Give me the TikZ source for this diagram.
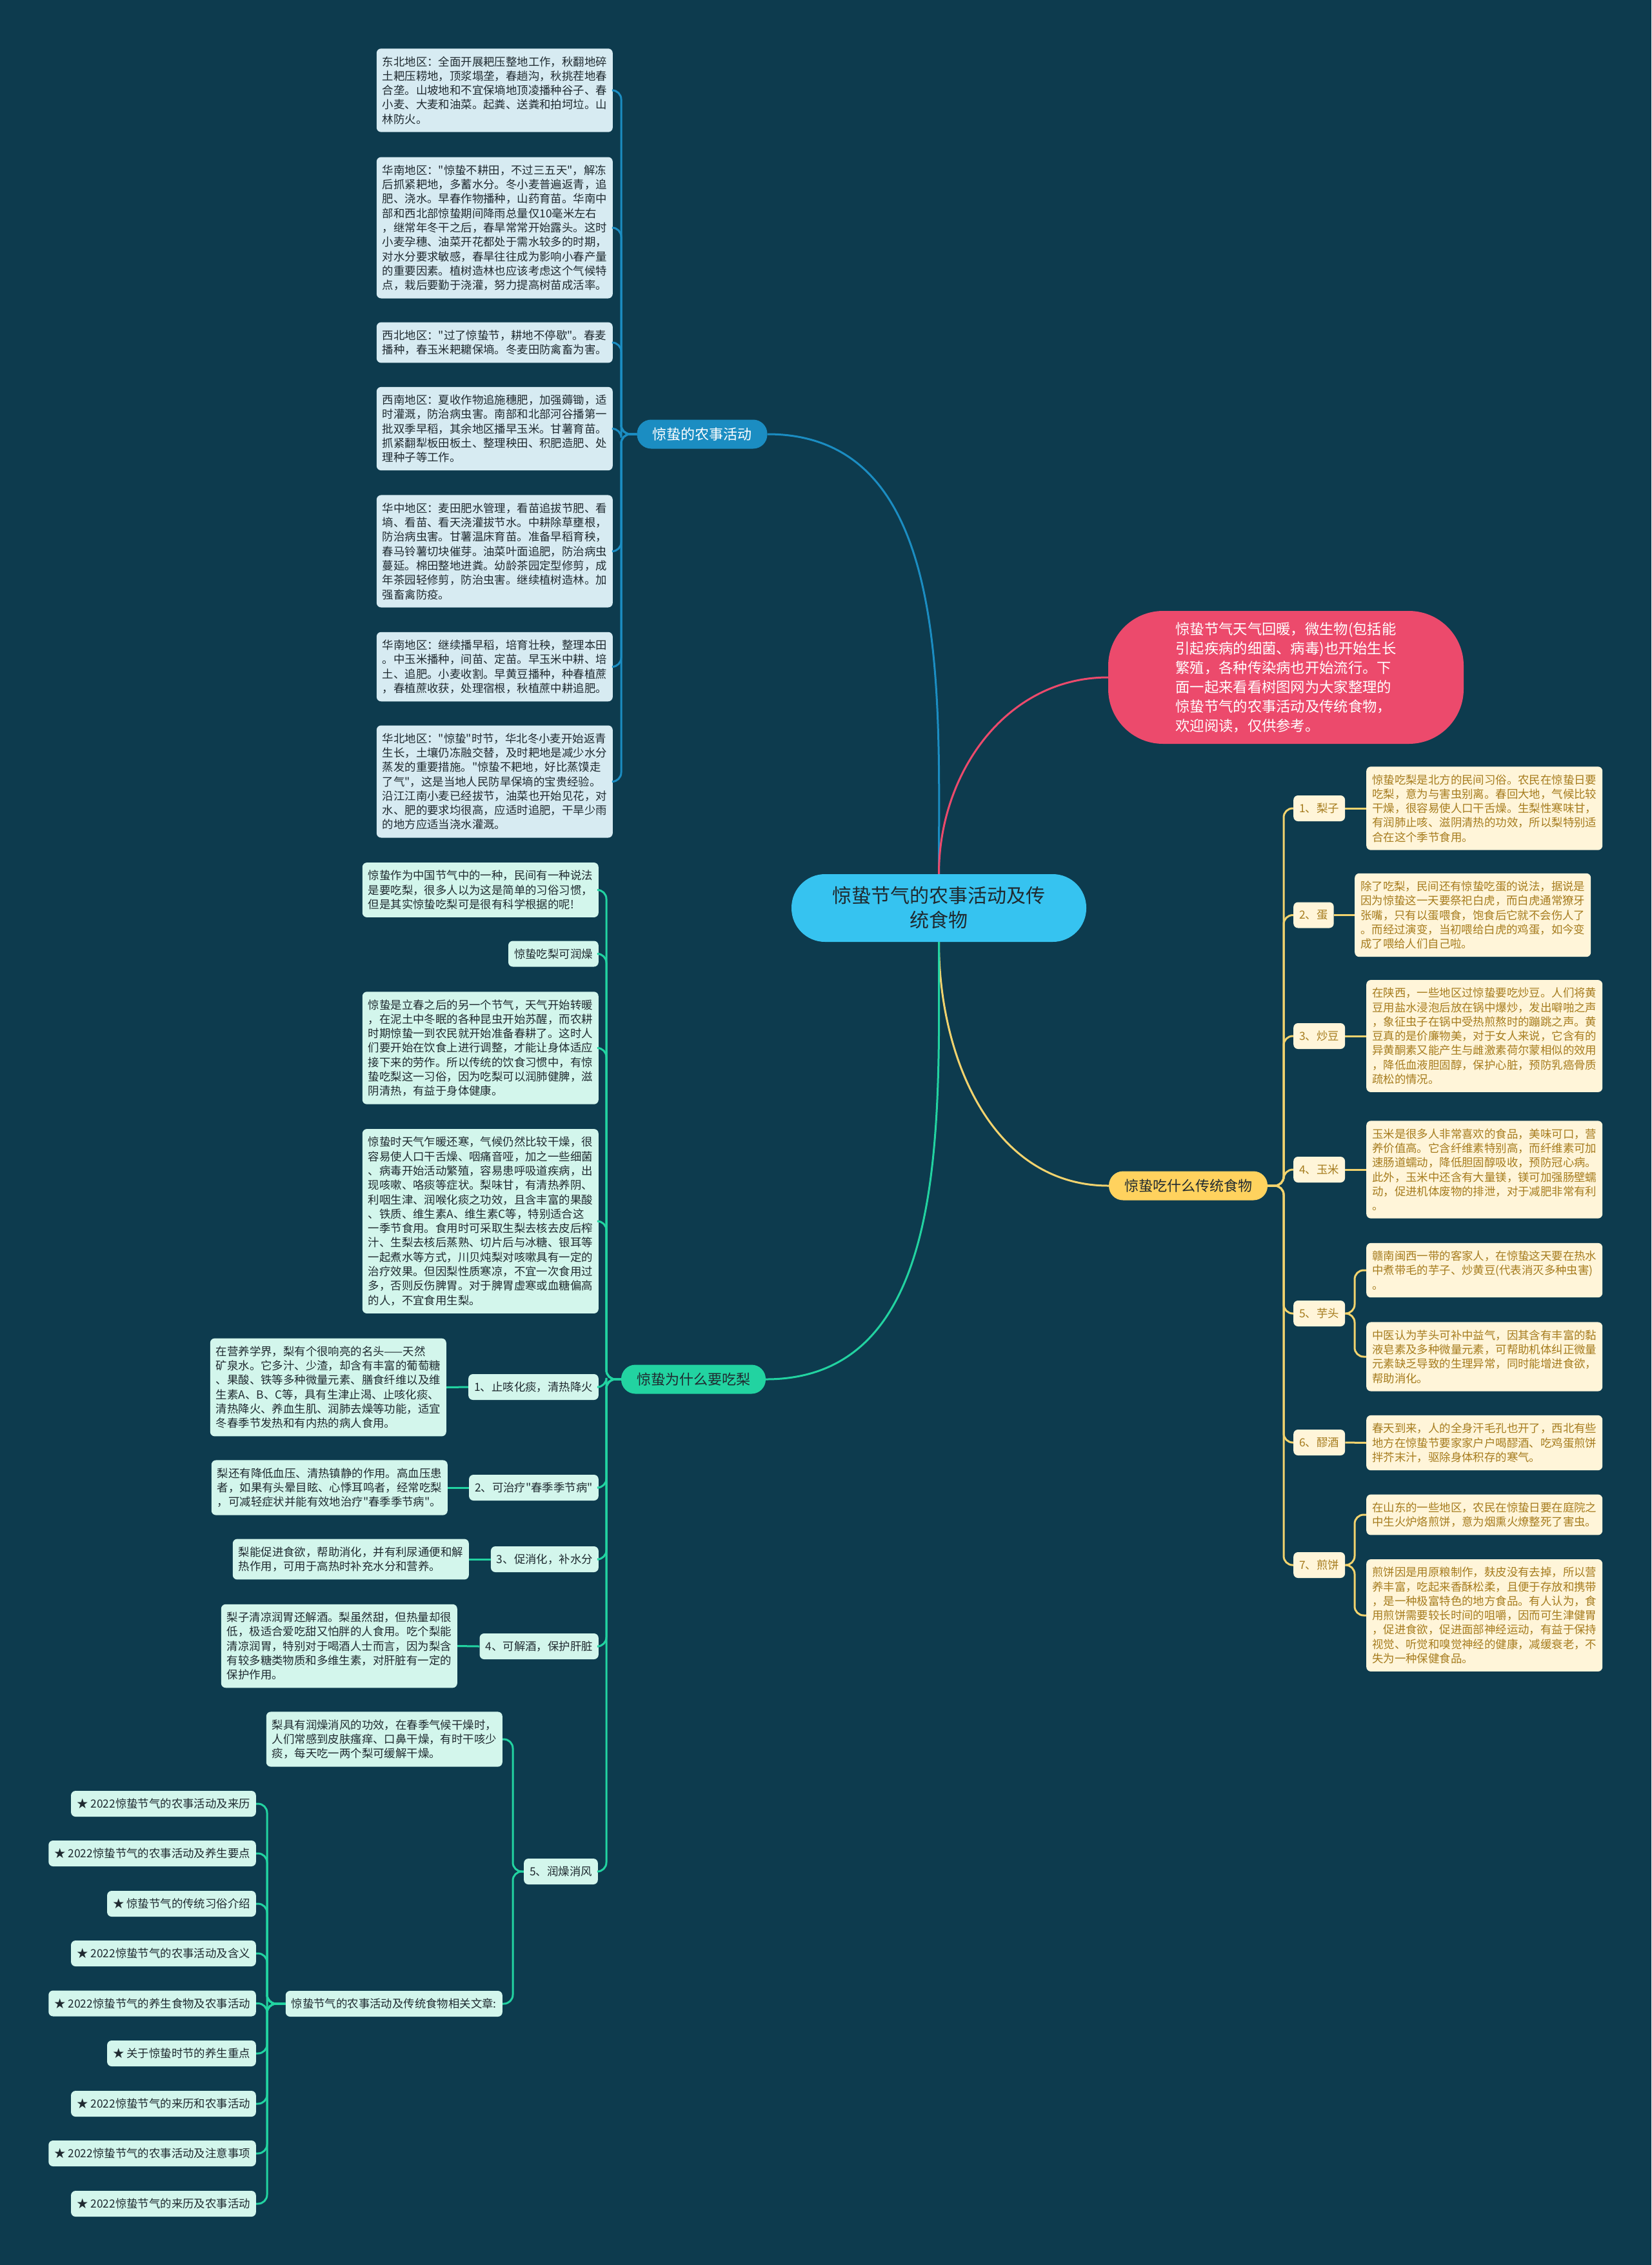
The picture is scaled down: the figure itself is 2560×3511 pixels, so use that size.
\documentclass[tikz,border=0pt]{standalone}
\usepackage{fontspec}
\setmainfont{Noto Sans CJK SC}[Ligatures=TeXOff]
\definecolor{bgnavy}{HTML}{0D3B4E}
\definecolor{farmblue}{HTML}{1B8DC2}
\definecolor{farmpale}{HTML}{D7EBF2}
\definecolor{hubcyan}{HTML}{36C3F0}
\definecolor{introred}{HTML}{EC4A6C}
\definecolor{foodgold}{HTML}{FFD25E}
\definecolor{foodline}{HTML}{F2D36E}
\definecolor{foodcream}{HTML}{FFF5D9}
\definecolor{foodtext}{HTML}{A67C1E}
\definecolor{peargreen}{HTML}{22D3A1}
\definecolor{pearmint}{HTML}{D3F6EC}
\definecolor{inkdark}{HTML}{1F2A30}
\newcommand{\bodyfont}{\fontsize{17.4}{22.3}\selectfont}

\begin{document}
\begin{tikzpicture}[x=1pt, y=-1pt,
	notebox/.style={rounded corners=7pt, inner xsep=9pt, inner ysep=12pt, align=left, font=\bodyfont},
	farmnote/.style={notebox, fill=farmpale, text=inkdark},
	pearnote/.style={notebox, fill=pearmint, text=inkdark},
	foodnote/.style={notebox, fill=foodcream, text=foodtext},
	pearlabel/.style={pearnote, minimum height=40pt, inner ysep=0pt},
	foodlabel/.style={foodnote, minimum height=40pt, inner ysep=0pt},
	branchpill/.style={rounded corners=22pt, minimum height=45pt, inner xsep=24pt, font=\fontsize{22}{26}\selectfont},
	farmwire/.style={draw=farmblue, line width=3pt, rounded corners=14pt},
	pearwire/.style={draw=peargreen, line width=3pt, rounded corners=14pt},
	foodwire/.style={draw=foodline, line width=3pt, rounded corners=14pt}]

	\useasboundingbox (0,0) rectangle (2560,3511);
	\fill[bgnavy] (0,0) rectangle (2560,3511);

	% centre and introduction
	\node[fill=hubcyan, text=inkdark, rounded corners=52pt, minimum width=457pt, minimum height=105pt, align=center, font=\fontsize{30}{38}\selectfont] (hub) at (1455.5,1407.5) {惊蛰节气的农事活动及传\\统食物};
	\node[fill=introred, text=white, rounded corners=85pt, minimum width=551pt, minimum height=206pt, align=left, font=\fontsize{22.3}{30}\selectfont] (intro) at (1993.5,1050) {惊蛰节气天气回暖，微生物(包括能\\引起疾病的细菌、病毒)也开始生长\\繁殖，各种传染病也开始流行。下\\面一起来看看树图网为大家整理的\\惊蛰节气的农事活动及传统食物，\\欢迎阅读，仅供参考。};

	% three branches
	\node[branchpill, fill=farmblue, text=white] (farm) at (1088.5,673) {惊蛰的农事活动};
	\node[branchpill, fill=foodgold, text=inkdark] (food) at (1842,1838) {惊蛰吃什么传统食物};
	\node[branchpill, fill=peargreen, text=inkdark] (pear) at (1075,2138) {惊蛰为什么要吃梨};

	\draw[farmblue, line width=3pt] (hub.north) to[out=90, in=0] (farm.east);
	\draw[introred, line width=3pt] (hub.north) to[out=90, in=180] (intro.west);
	\draw[foodline, line width=3pt] (hub.south) to[out=-90, in=180] (food.west);
	\draw[peargreen, line width=3pt] (hub.south) to[out=-90, in=0] (pear.east);

	% farm work by region
	\node[farmnote, anchor=east] (f1) at (950,140) {东北地区：全面开展耙压整地工作，秋翻地碎\\土耙压耢地，顶浆塌垄，春趟沟，秋挑茬地春\\合垄。山坡地和不宜保墒地顶凌播种谷子、春\\小麦、大麦和油菜。起粪、送粪和拍坷垃。山\\林防火。};
	\node[farmnote, anchor=east] (f2) at (950,353) {华南地区："惊蛰不耕田，不过三五天"，解冻\\后抓紧耙地，多蓄水分。冬小麦普遍返青，追\\肥、浇水。早春作物播种，山药育苗。华南中\\部和西北部惊蛰期间降雨总量仅10毫米左右\\，继常年冬干之后，春旱常常开始露头。这时\\小麦孕穗、油菜开花都处于需水较多的时期，\\对水分要求敏感，春旱往往成为影响小春产量\\的重要因素。植树造林也应该考虑这个气候特\\点，栽后要勤于浇灌，努力提高树苗成活率。};
	\node[farmnote, anchor=east] (f3) at (950,531) {西北地区："过了惊蛰节，耕地不停歇"。春麦\\播种，春玉米耙耱保墒。冬麦田防禽畜为害。};
	\node[farmnote, anchor=east] (f4) at (950,664.5) {西南地区：夏收作物追施穗肥，加强薅锄，适\\时灌溉，防治病虫害。南部和北部河谷播第一\\批双季早稻，其余地区播早玉米。甘薯育苗。\\抓紧翻犁板田板土、整理秧田、积肥造肥、处\\理种子等工作。};
	\node[farmnote, anchor=east] (f5) at (950,854.5) {华中地区：麦田肥水管理，看苗追拔节肥、看\\墒、看苗、看天浇灌拔节水。中耕除草壅根，\\防治病虫害。甘薯温床育苗。准备早稻育秧，\\春马铃薯切块催芽。油菜叶面追肥，防治病虫\\蔓延。棉田整地进粪。幼龄茶园定型修剪，成\\年茶园轻修剪，防治虫害。继续植树造林。加\\强畜禽防疫。};
	\node[farmnote, anchor=east] (f6) at (950,1033.5) {华南地区：继续播早稻，培育壮秧，整理本田\\。中玉米播种，间苗、定苗。早玉米中耕、培\\土、追肥。小麦收割。早黄豆播种，种春植蔗\\，春植蔗收获，处理宿根，秋植蔗中耕追肥。};
	\node[farmnote, anchor=east] (f7) at (950,1211.5) {华北地区："惊蛰"时节，华北冬小麦开始返青\\生长，土壤仍冻融交替，及时耙地是减少水分\\蒸发的重要措施。"惊蛰不耙地，好比蒸馍走\\了气"，这是当地人民防旱保墒的宝贵经验。\\沿江江南小麦已经拔节，油菜也开始见花，对\\水、肥的要求均很高，应适时追肥，干旱少雨\\的地方应适当浇水灌溉。};

	\coordinate (farmjoint) at (963,673);
	\draw[farmwire] (farm.west) -- (farmjoint) |- (f1.east);
	\draw[farmwire] (farm.west) -- (farmjoint) |- (f2.east);
	\draw[farmwire] (farm.west) -- (farmjoint) |- (f3.east);
	\draw[farmwire] (farm.west) -- (farmjoint) |- (f4.east);
	\draw[farmwire] (farm.west) -- (farmjoint) |- (f5.east);
	\draw[farmwire] (farm.west) -- (farmjoint) |- (f6.east);
	\draw[farmwire] (farm.west) -- (farmjoint) |- (f7.east);

	% why eat pears
	\node[pearnote, anchor=east] (g1) at (928,1379.5) {惊蛰作为中国节气中的一种，民间有一种说法\\是要吃梨，很多人以为这是简单的习俗习惯，\\但是其实惊蛰吃梨可是很有科学根据的呢!};
	\node[pearlabel, anchor=east] (g2) at (928,1478.5) {惊蛰吃梨可润燥};
	\node[pearnote, anchor=east] (g3) at (928,1624.5) {惊蛰是立春之后的另一个节气，天气开始转暖\\，在泥土中冬眠的各种昆虫开始苏醒，而农耕\\时期惊蛰一到农民就开始准备春耕了。这时人\\们要开始在饮食上进行调整，才能让身体适应\\接下来的劳作。所以传统的饮食习惯中，有惊\\蛰吃梨这一习俗，因为吃梨可以润肺健脾，滋\\阴清热，有益于身体健康。};
	\node[pearnote, anchor=east] (g4) at (928,1893) {惊蛰时天气乍暖还寒，气候仍然比较干燥，很\\容易使人口干舌燥、咽痛音哑，加之一些细菌\\、病毒开始活动繁殖，容易患呼吸道疾病，出\\现咳嗽、咯痰等症状。梨味甘，有清热养阴、\\利咽生津、润喉化痰之功效，且含丰富的果酸\\、铁质、维生素A、维生素C等，特别适合这\\一季节食用。食用时可采取生梨去核去皮后榨\\汁、生梨去核后蒸熟、切片后与冰糖、银耳等\\一起煮水等方式，川贝炖梨对咳嗽具有一定的\\治疗效果。但因梨性质寒凉，不宜一次食用过\\多，否则反伤脾胃。对于脾胃虚寒或血糖偏高\\的人，不宜食用生梨。};
	\node[pearlabel, anchor=east] (b1) at (928,2150) {1、止咳化痰，清热降火};
	\node[pearlabel, anchor=east] (b2) at (928,2306) {2、可治疗"春季季节病"};
	\node[pearlabel, anchor=east] (b3) at (928,2417) {3、促消化，补水分};
	\node[pearlabel, anchor=east] (b4) at (928,2552) {4、可解酒，保护肝脏};
	\node[pearlabel, anchor=east] (b5) at (927,2901) {5、润燥消风};

	\node[pearnote, anchor=east] (p1) at (692,2150.5) {在营养学界，梨有个很响亮的名头——天然\\矿泉水。它多汁、少渣，却含有丰富的葡萄糖\\、果酸、铁等多种微量元素、膳食纤维以及维\\生素A、B、C等，具有生津止渴、止咳化痰、\\清热降火、养血生肌、润肺去燥等功能，适宜\\冬春季节发热和有内热的病人食用。};
	\node[pearnote, anchor=east] (p2) at (694,2306) {梨还有降低血压、清热镇静的作用。高血压患\\者，如果有头晕目眩、心悸耳鸣者，经常吃梨\\，可减轻症状并能有效地治疗"春季季节病"。};
	\node[pearnote, anchor=east] (p3) at (727,2417) {梨能促进食欲，帮助消化，并有利尿通便和解\\热作用，可用于高热时补充水分和营养。};
	\node[pearnote, anchor=east] (p4) at (709,2551.5) {梨子清凉润胃还解酒。梨虽然甜，但热量却很\\低，极适合爱吃甜又怕胖的人食用。吃个梨能\\清凉润胃，特别对于喝酒人士而言，因为梨含\\有较多糖类物质和多维生素，对肝脏有一定的\\保护作用。};
	\node[pearnote, anchor=east] (p5) at (779,2696) {梨具有润燥消风的功效，在春季气候干燥时，\\人们常感到皮肤瘙痒、口鼻干燥，有时干咳少\\痰，每天吃一两个梨可缓解干燥。};
	\node[pearlabel, anchor=east] (links) at (779,3106) {惊蛰节气的农事活动及传统食物相关文章:};

	\node[pearlabel, anchor=east] (s1) at (397,2796) {★ 2022惊蛰节气的农事活动及来历};
	\node[pearlabel, anchor=east] (s2) at (397,2873) {★ 2022惊蛰节气的农事活动及养生要点};
	\node[pearlabel, anchor=east] (s3) at (397,2951) {★ 惊蛰节气的传统习俗介绍};
	\node[pearlabel, anchor=east] (s4) at (397,3028) {★ 2022惊蛰节气的农事活动及含义};
	\node[pearlabel, anchor=east] (s5) at (397,3105.5) {★ 2022惊蛰节气的养生食物及农事活动};
	\node[pearlabel, anchor=east] (s6) at (397,3183) {★ 关于惊蛰时节的养生重点};
	\node[pearlabel, anchor=east] (s7) at (397,3261) {★ 2022惊蛰节气的来历和农事活动};
	\node[pearlabel, anchor=east] (s8) at (397,3338) {★ 2022惊蛰节气的农事活动及注意事项};
	\node[pearlabel, anchor=east] (s9) at (397,3416) {★ 2022惊蛰节气的来历及农事活动};

	\coordinate (pearjoint) at (940,2138);
	\draw[pearwire] (pear.west) -- (pearjoint) |- (g1.east);
	\draw[pearwire] (pear.west) -- (pearjoint) |- (g2.east);
	\draw[pearwire] (pear.west) -- (pearjoint) |- (g3.east);
	\draw[pearwire] (pear.west) -- (pearjoint) |- (g4.east);
	\draw[pearwire] (pear.west) -- (pearjoint) |- (b1.east);
	\draw[pearwire] (pear.west) -- (pearjoint) |- (b2.east);
	\draw[pearwire] (pear.west) -- (pearjoint) |- (b3.east);
	\draw[pearwire] (pear.west) -- (pearjoint) |- (b4.east);
	\draw[pearwire] (pear.west) -- (pearjoint) |- (b5.east);
	\draw[pearwire] (b1.west) -- (p1.east);
	\draw[pearwire] (b2.west) -- (p2.east);
	\draw[pearwire] (b3.west) -- (p3.east);
	\draw[pearwire] (b4.west) -- (p4.east);
	\coordinate (moistjoint) at (795,2901);
	\draw[pearwire] (b5.west) -- (moistjoint) |- (p5.east);
	\draw[pearwire] (b5.west) -- (moistjoint) |- (links.east);
	\coordinate (linkjoint) at (414,3106);
	\draw[pearwire] (links.west) -- (linkjoint) |- (s1.east);
	\draw[pearwire] (links.west) -- (linkjoint) |- (s2.east);
	\draw[pearwire] (links.west) -- (linkjoint) |- (s3.east);
	\draw[pearwire] (links.west) -- (linkjoint) |- (s4.east);
	\draw[pearwire] (links.west) -- (linkjoint) |- (s5.east);
	\draw[pearwire] (links.west) -- (linkjoint) |- (s6.east);
	\draw[pearwire] (links.west) -- (linkjoint) |- (s7.east);
	\draw[pearwire] (links.west) -- (linkjoint) |- (s8.east);
	\draw[pearwire] (links.west) -- (linkjoint) |- (s9.east);

	% traditional foods
	\node[foodlabel, anchor=west] (d1) at (2005,1253) {1、梨子};
	\node[foodlabel, anchor=west] (d2) at (2005,1418.5) {2、蛋};
	\node[foodlabel, anchor=west] (d3) at (2005,1606) {3、炒豆};
	\node[foodlabel, anchor=west] (d4) at (2005,1813) {4、玉米};
	\node[foodlabel, anchor=west] (d5) at (2005,2036) {5、芋头};
	\node[foodlabel, anchor=west] (d6) at (2005,2236) {6、醪酒};
	\node[foodlabel, anchor=west] (d7) at (2005,2426) {7、煎饼};

	\node[foodnote, anchor=west] (r1) at (2118,1253) {惊蛰吃梨是北方的民间习俗。农民在惊蛰日要\\吃梨，意为与害虫别离。春回大地，气候比较\\干燥，很容易使人口干舌燥。生梨性寒味甘，\\有润肺止咳、滋阴清热的功效，所以梨特别适\\合在这个季节食用。};
	\node[foodnote, anchor=west] (r2) at (2100,1418.5) {除了吃梨，民间还有惊蛰吃蛋的说法，据说是\\因为惊蛰这一天要祭祀白虎，而白虎通常獠牙\\张嘴，只有以蛋喂食，饱食后它就不会伤人了\\。而经过演变，当初喂给白虎的鸡蛋，如今变\\成了喂给人们自己啦。};
	\node[foodnote, anchor=west] (r3) at (2118,1606) {在陕西，一些地区过惊蛰要吃炒豆。人们将黄\\豆用盐水浸泡后放在锅中爆炒，发出噼啪之声\\，象征虫子在锅中受热煎熬时的蹦跳之声。黄\\豆真的是价廉物美，对于女人来说，它含有的\\异黄酮素又能产生与雌激素荷尔蒙相似的效用\\，降低血液胆固醇，保护心脏，预防乳癌骨质\\疏松的情况。};
	\node[foodnote, anchor=west] (r4) at (2118,1813) {玉米是很多人非常喜欢的食品，美味可口，营\\养价值高。它含纤维素特别高，而纤维素可加\\速肠道蠕动，降低胆固醇吸收，预防冠心病。\\此外，玉米中还含有大量镁，镁可加强肠壁蠕\\动，促进机体废物的排泄，对于减肥非常有利\\。};
	\node[foodnote, anchor=west] (r5a) at (2118,1969) {赣南闽西一带的客家人，在惊蛰这天要在热水\\中煮带毛的芋子、炒黄豆(代表消灭多种虫害)\\。};
	\node[foodnote, anchor=west] (r5b) at (2118,2103) {中医认为芋头可补中益气，因其含有丰富的黏\\液皂素及多种微量元素，可帮助机体纠正微量\\元素缺乏导致的生理异常，同时能增进食欲，\\帮助消化。};
	\node[foodnote, anchor=west] (r6) at (2118,2236.5) {春天到来，人的全身汗毛孔也开了，西北有些\\地方在惊蛰节要家家户户喝醪酒、吃鸡蛋煎饼\\拌芥末汁，驱除身体积存的寒气。};
	\node[foodnote, anchor=west] (r7a) at (2118,2348) {在山东的一些地区，农民在惊蛰日要在庭院之\\中生火炉烙煎饼，意为烟熏火燎整死了害虫。};
	\node[foodnote, anchor=west] (r7b) at (2118,2504) {煎饼因是用原粮制作，麸皮没有去掉，所以营\\养丰富，吃起来香酥松柔，且便于存放和携带\\，是一种极富特色的地方食品。有人认为，食\\用煎饼需要较长时间的咀嚼，因而可生津健胃\\，促进食欲，促进面部神经运动，有益于保持\\视觉、听觉和嗅觉神经的健康，减缓衰老，不\\失为一种保健食品。};

	\coordinate (foodjoint) at (1990,1838);
	\draw[foodwire] (food.east) -- (foodjoint) |- (d1.west);
	\draw[foodwire] (food.east) -- (foodjoint) |- (d2.west);
	\draw[foodwire] (food.east) -- (foodjoint) |- (d3.west);
	\draw[foodwire] (food.east) -- (foodjoint) |- (d4.west);
	\draw[foodwire] (food.east) -- (foodjoint) |- (d5.west);
	\draw[foodwire] (food.east) -- (foodjoint) |- (d6.west);
	\draw[foodwire] (food.east) -- (foodjoint) |- (d7.west);
	\draw[foodwire] (d1.east) -- (r1.west);
	\draw[foodwire] (d2.east) -- (r2.west);
	\draw[foodwire] (d3.east) -- (r3.west);
	\draw[foodwire] (d4.east) -- (r4.west);
	\coordinate (tarojoint) at (2100,2036);
	\draw[foodwire] (d5.east) -- (tarojoint) |- (r5a.west);
	\draw[foodwire] (d5.east) -- (tarojoint) |- (r5b.west);
	\draw[foodwire] (d6.east) -- (r6.west);
	\coordinate (cakejoint) at (2100,2426);
	\draw[foodwire] (d7.east) -- (cakejoint) |- (r7a.west);
	\draw[foodwire] (d7.east) -- (cakejoint) |- (r7b.west);
\end{tikzpicture}
\end{document}
